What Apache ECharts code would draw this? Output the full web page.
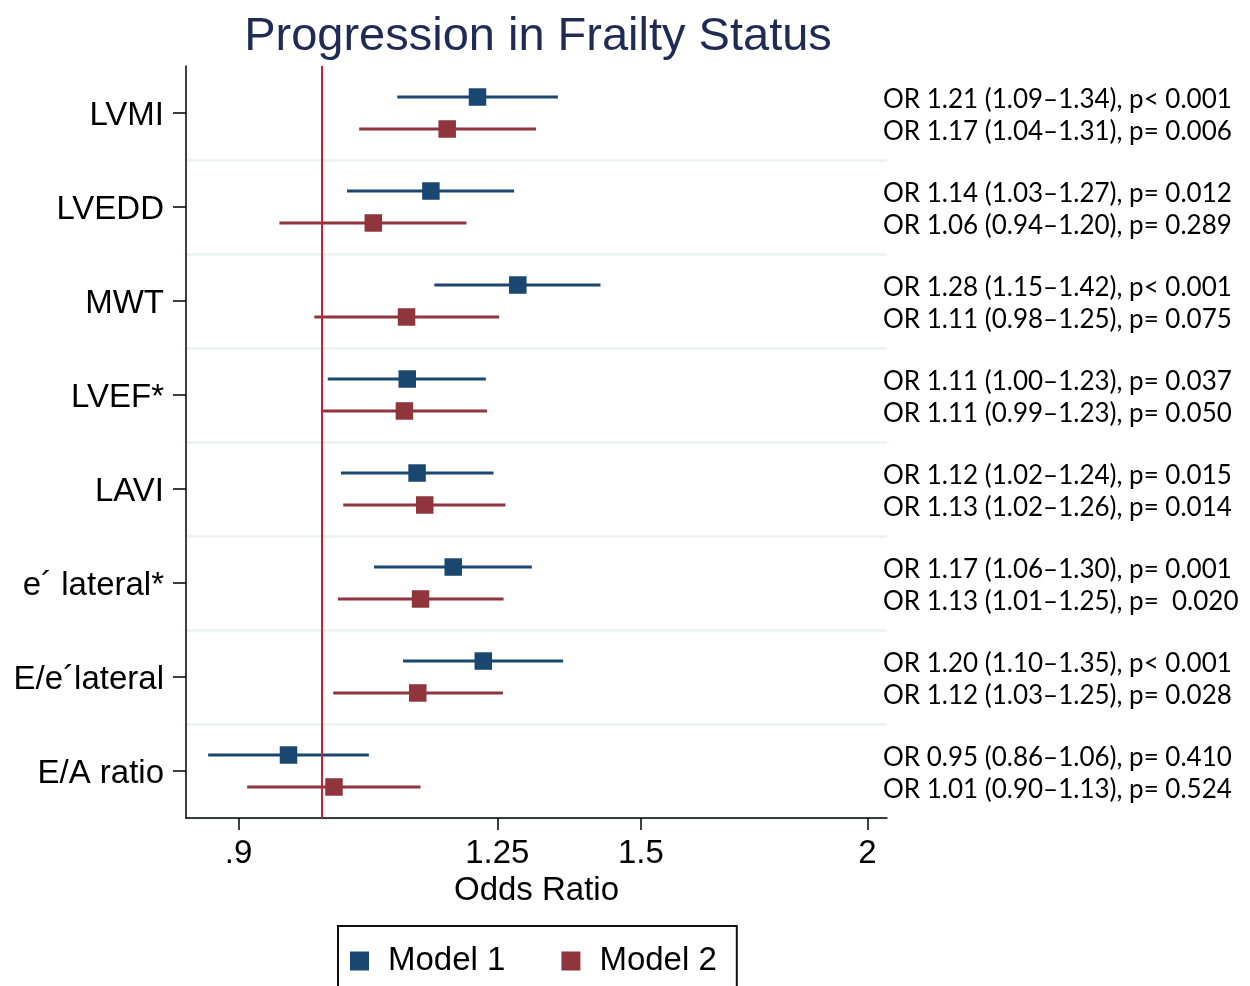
<!DOCTYPE html>
<html>
<head>
<meta charset="utf-8">
<script src="https://cdn.jsdelivr.net/npm/echarts@6/dist/echarts.min.js"></script>
<style>html,body{margin:0;padding:0;background:#fff;}#c{width:1250px;height:986px;}</style>
</head>
<body>
<div id="c"></div>
<script>
// Categories (top to bottom)
const categories = ['LVMI','LVEDD','MWT','LVEF*','LAVI','e\u00b4 lateral*','E/e\u00b4lateral','E/A ratio'];

// Plotted odds ratios and CI bounds
const or1 = [1.219,1.149,1.283,1.115,1.129,1.182,1.228,0.959];
const lo1 = [1.101,1.033,1.154,1.008,1.025,1.069,1.109,0.866];
const hi1 = [1.350,1.277,1.425,1.232,1.244,1.306,1.359,1.062];
const or2 = [1.173,1.068,1.114,1.111,1.140,1.134,1.130,1.016];
const lo2 = [1.049,0.948,0.991,1.002,1.028,1.021,1.015,0.910];
const hi2 = [1.313,1.202,1.253,1.234,1.263,1.260,1.259,1.134];

// Annotation values as printed on the right
const txtOr1 = ['1.21','1.14','1.28','1.11','1.12','1.17','1.20','0.95'];
const txtLo1 = ['1.09','1.03','1.15','1.00','1.02','1.06','1.10','0.86'];
const txtHi1 = ['1.34','1.27','1.42','1.23','1.24','1.30','1.35','1.06'];
const txtP1  = ['p< 0.001','p= 0.012','p< 0.001','p= 0.037','p= 0.015','p= 0.001','p< 0.001','p= 0.410'];
const txtOr2 = ['1.17','1.06','1.11','1.11','1.13','1.13','1.12','1.01'];
const txtLo2 = ['1.04','0.94','0.98','0.99','1.02','1.01','1.03','0.90'];
const txtHi2 = ['1.31','1.20','1.25','1.23','1.26','1.25','1.25','1.13'];
const txtP2  = ['p= 0.006','p= 0.289','p= 0.075','p= 0.050','p= 0.014','p=  0.020','p= 0.028','p= 0.524'];

const xTicks = [0.9, 1.25, 1.5, 2];
const refValue = 1;

const C1 = '#1a476f', C2 = '#90353b';
function fmtRow(o, l, h, p) {
  return 'OR ' + o + ' (' + l + '\u2013' + h + '), ' + p;
}
function mkData(o, l, h) {
  return categories.map((c, i) => [i, o[i], l[i], h[i]]);
}
function makeRender(color, frac) {
  return function (params, api) {
    const cat = api.value(0);
    const band = api.size([0, 1])[1];
    const dy = band * frac;
    const pm = api.coord([api.value(1), cat]);
    const pl = api.coord([api.value(2), cat]);
    const ph = api.coord([api.value(3), cat]);
    const y = pm[1] + dy;
    const s = 17.5;
    return {
      type: 'group',
      children: [
        { type: 'line', shape: { x1: pl[0], y1: y, x2: ph[0], y2: y }, style: { stroke: color, lineWidth: 2.8 } },
        { type: 'rect', shape: { x: pm[0] - s / 2, y: y - s / 2, width: s, height: s }, style: { fill: color } }
      ]
    };
  };
}

const chart = echarts.init(document.getElementById('c'), null, { renderer: 'canvas' });
chart.setOption({
  animation: false,
  backgroundColor: '#fff',
  title: {
    text: 'Progression in Frailty Status',
    left: 533, textAlign: 'center', top: 9,
    textStyle: { fontFamily: 'Liberation Sans', fontSize: 47, fontWeight: 'normal', color: '#1f2b55' }
  },
  grid: { left: 186, right: 363, top: 66, bottom: 168, containLabel: false, outerBoundsMode: 'none' },
  legend: {
    data: ['Model 1', 'Model 2'],
    left: 338, top: 926,
    orient: 'horizontal',
    icon: 'rect', itemWidth: 19, itemHeight: 19, itemGap: 56,
    borderColor: '#111', borderWidth: 2, borderRadius: 0,
    padding: [17, 20, 30, 12],
    textStyle: { fontFamily: 'Liberation Sans', fontSize: 33, color: '#000', padding: [0, 0, 0, 14], lineHeight: 36 }
  },
  xAxis: {
    type: 'log', logBase: 10, min: 0.842, max: 2.05,
    name: 'Odds Ratio', nameLocation: 'middle', nameGap: 56,
    nameTextStyle: { fontFamily: 'Liberation Sans', fontSize: 33, color: '#000' },
    axisLine: { show: true, lineStyle: { color: '#000', width: 1.5 } },
    axisTick: { show: true, length: 12, lineStyle: { color: '#000', width: 1.5 }, customValues: xTicks },
    axisLabel: {
      customValues: xTicks, margin: 19,
      fontFamily: 'Liberation Sans', fontSize: 33, color: '#000',
      formatter: function (v) { return Math.abs(v - 0.9) < 1e-6 ? '.9' : String(+(+v).toFixed(2)); }
    },
    splitLine: { show: false }, minorTick: { show: false }
  },
  yAxis: [
    {
      type: 'category', data: categories, inverse: true, position: 'left', boundaryGap: true,
      axisLine: { show: true, lineStyle: { color: '#000', width: 1.5 } },
      axisTick: { show: true, alignWithLabel: true, length: 13, lineStyle: { color: '#000', width: 1.5 } },
      axisLabel: {
        margin: 22, color: '#000',
        formatter: function (v) { return '{l|' + v + '}'; },
        rich: { l: { fontFamily: 'Liberation Sans', fontSize: 33, lineHeight: 33, padding: [6, 0, 0, 0], color: '#000' } }
      },
      splitLine: { show: true, interval: function (i) { return i !== 0; }, lineStyle: { color: '#eaf2f3', width: 2.5 } }
    },
    {
      type: 'category', data: categories, inverse: true, position: 'right', boundaryGap: true,
      axisLine: { show: false }, axisTick: { show: false }, splitLine: { show: false },
      axisLabel: {
        margin: -4, align: 'left', color: '#000',
        formatter: function (v, i) {
          return '{s| }\n{t|' + fmtRow(txtOr1[i], txtLo1[i], txtHi1[i], txtP1[i]) + '}\n{t|' + fmtRow(txtOr2[i], txtLo2[i], txtHi2[i], txtP2[i]) + '}';
        },
        rich: {
          s: { fontFamily: 'Lato', fontSize: 4, lineHeight: 6 },
          t: { fontFamily: 'Lato', fontSize: 26, lineHeight: 32, color: '#000' }
        }
      }
    }
  ],
  series: [
    {
      type: 'line', data: [], yAxisIndex: 0, silent: true, symbol: 'none',
      markLine: {
        silent: true, symbol: ['none', 'none'], label: { show: false },
        lineStyle: { color: '#c8203a', width: 2, type: 'solid' },
        data: [{ xAxis: refValue }]
      }
    },
    {
      name: 'Model 1', type: 'custom', yAxisIndex: 0, itemStyle: { color: C1 },
      encode: { x: [1, 2, 3], y: 0 }, data: mkData(or1, lo1, hi1), renderItem: makeRender(C1, -0.17)
    },
    {
      name: 'Model 2', type: 'custom', yAxisIndex: 0, itemStyle: { color: C2 },
      encode: { x: [1, 2, 3], y: 0 }, data: mkData(or2, lo2, hi2), renderItem: makeRender(C2, 0.17)
    }
  ]
});
</script>
</body>
</html>
